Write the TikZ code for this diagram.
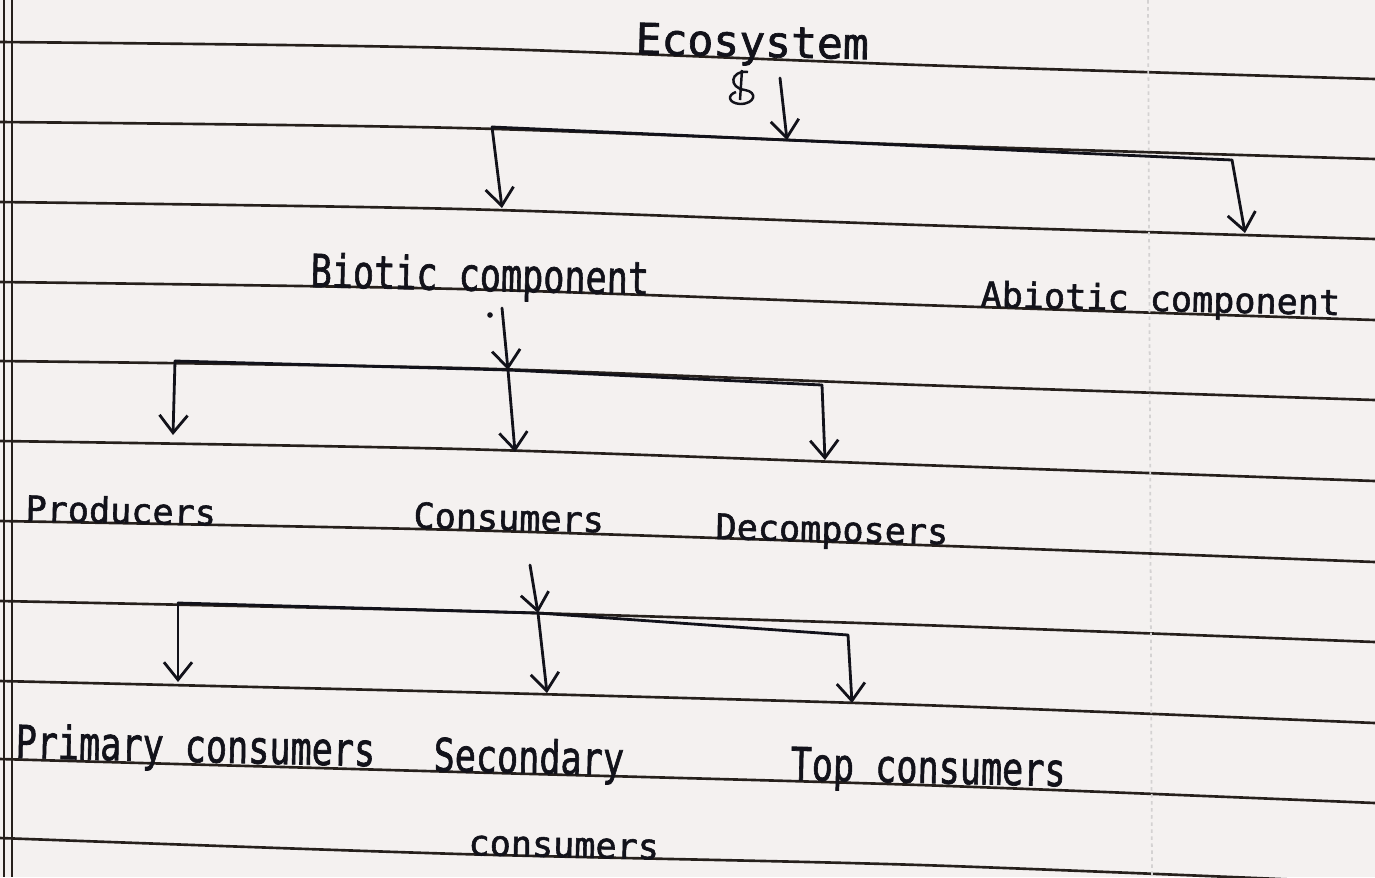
\documentclass[tikz,border=0pt]{standalone}
\usepackage{fontspec}
\newfontfamily\hand[FakeBold=1.6]{DejaVu Sans Mono}
\usetikzlibrary{arrows.meta}
\definecolor{paper}{RGB}{244,241,240}
\definecolor{rulec}{RGB}{38,32,28}
\definecolor{ink}{RGB}{18,18,26}
\newcommand\talltext[1]{\scalebox{1}[1.3]{#1}}
\begin{document}
\begin{tikzpicture}[x=0.02cm,y=-0.02cm,
  txt/.style={anchor=base west, inner sep=0pt, text=ink, font=\hand\fontsize{20}{22}\selectfont, rotate=-1.3},
  bigtxt/.style={font=\hand\fontsize{24.5}{26}\selectfont},
  link/.style={draw=ink, line width=1.6pt, line cap=round, line join=round},
  arr/.style={link, -{Straight Barb[length=10pt,width=16pt,line width=1.6pt]}},
  ruled/.style={draw=rulec, line width=1.5pt}]
\fill[paper] (0,0) rectangle (1375,877);
\useasboundingbox (0,0) rectangle (1375,877);
% ruled lines: left y / offset at x=460 / at x=920 / at x=1375
\foreach \yy/\ma/\mb/\mc in {42/6/23/37,122/6/23/37,202/7/23/37,282/7/23/38,361/7/24/39,441/8/24/40,521/9/24/41,601/10/24/41,681/11/24/42,759/13/26/44,838/16/27/45} {
  \draw[ruled] plot[smooth] coordinates {(0,\yy) (460,\yy+\ma) (920,\yy+\mb) (1375,\yy+\mc)};
}
\draw[ruled] (4,0) -- (4,877);
\draw[ruled] (12,0) -- (12,877);
\draw[rulec!20, line width=1pt, dash pattern=on 2pt off 2pt] (1148,0) -- (1152,877);
% texts
\node[txt, bigtxt] (eco) at (635,54) {Ecosystem};
\node[txt] (biotic) at (310,287) {\talltext{Biotic component}};
\node[txt] (abiotic) at (980,307) {Abiotic component};
\node[txt] (prod) at (25,521) {Producers};
\node[txt] (cons) at (413,528) {Consumers};
\node[txt] (decomp) at (715,539) {Decomposers};
\node[txt] (primary) at (15,758) {\talltext{Primary consumers}};
\node[txt] (secondary) at (433,771) {\talltext{Secondary}};
\node[txt] (secondarytwo) at (468,855) {consumers};
\node[txt] (top) at (790,780) {\talltext{Top consumers}};
% scribble and pen dot
\draw[ink, line width=1.4pt] (748,72) .. controls (730,70) and (728,88) .. (745,90) .. controls (758,92) and (755,104) .. (740,104) .. controls (728,103) and (727,95) .. (736,92);
\draw[ink, line width=1.4pt] (742,70) -- (740,100);
\fill[ink] (490,315) circle (1.6pt);
% bracket 1
\coordinate (e0) at (780,78);
\coordinate (b1L) at (492,127);
\coordinate (b1M) at (787,140);
\coordinate (b1R) at (1232,160);
\coordinate (b1Lend) at (502,208);
\coordinate (b1Rend) at (1245,233);
\draw[arr] (e0) -- (b1M);
\draw[link] (b1L) -- (b1M) -- (b1R);
\draw[arr] (b1L) -- (b1Lend);
\draw[arr] (b1R) -- (b1Rend);
% bracket 2
\coordinate (f0) at (502,308);
\coordinate (b2M) at (508,370);
\coordinate (b2L) at (175,361);
\coordinate (b2R) at (822,385);
\coordinate (b2Lend) at (173,435);
\coordinate (b2Mend) at (515,452);
\coordinate (b2Rend) at (825,460);
\draw[arr] (f0) -- (b2M);
\draw[link] (b2L) -- (b2M) -- (b2R);
\draw[arr] (b2L) -- (b2Lend);
\draw[arr] (b2M) -- (b2Mend);
\draw[arr] (b2R) -- (b2Rend);
% bracket 3
\coordinate (g0) at (530,565);
\coordinate (b3M) at (538,613);
\coordinate (b3L) at (178,603);
\coordinate (b3R) at (848,635);
\coordinate (b3Lend) at (178,682);
\coordinate (b3Mend) at (547,693);
\coordinate (b3Rend) at (852,703);
\draw[arr] (g0) -- (b3M);
\draw[link] (b3L) -- (b3M) -- (b3R);
\draw[arr] (b3L) -- (b3Lend);
\draw[arr] (b3M) -- (b3Mend);
\draw[arr] (b3R) -- (b3Rend);
\end{tikzpicture}
\end{document}
